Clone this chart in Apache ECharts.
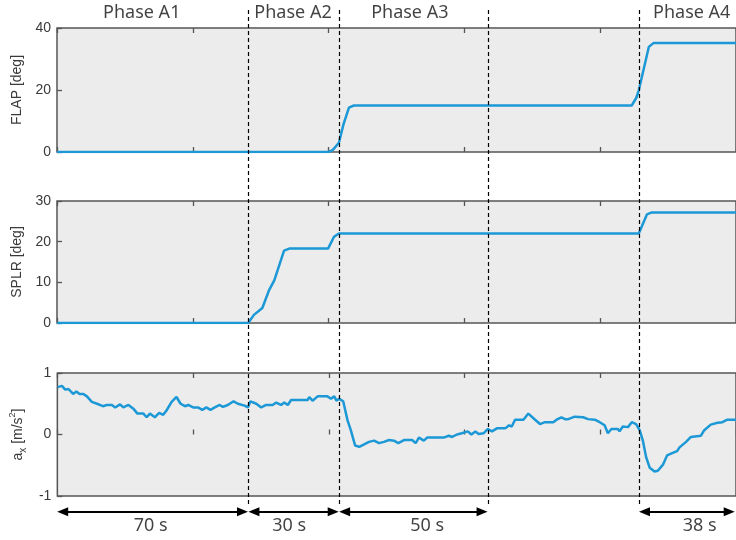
<!DOCTYPE html>
<html>
<head>
  <meta charset="utf-8" />
  <script src="https://cdn.jsdelivr.net/npm/echarts@6/dist/echarts.min.js"></script>
  <style>
    body { margin: 0; background-color: #ffffff; }
    #main { width: 736px; height: 540px; }
  </style>
</head>
<body>
<div id="main"></div>
<script type="text/javascript">
  // time in seconds
  let flapData = [
    [0, 0], [99.8, 0], [101.5, 0.6], [103.8, 3], [105.5, 9], [107.5, 14.3], [109.3, 15],
    [211.6, 15], [213.3, 17.5], [214.2, 19.9], [217.9, 33.9], [219.7, 35.2], [250, 35.2]
  ]
  let splrData = [
    [0, 0], [70.4, 0], [72.5, 2], [75.6, 3.7], [78.1, 8.1], [80, 10.5], [83.6, 17.8], [85.5, 18.3],
    [99.8, 18.3], [102, 21.2], [103.8, 22], [214.2, 22], [217.2, 26.7], [219, 27.2], [250, 27.2]
  ]
  let accData = [
    [0.1, 0.77], [1.7, 0.79], [2.9, 0.73], [4.1, 0.74], [5.8, 0.66], [7.0, 0.70], [8.2, 0.66], [9.6, 0.66],
    [10.9, 0.62], [12.7, 0.53], [14.6, 0.50], [16.8, 0.46], [18.2, 0.48], [20.1, 0.48], [21.3, 0.44],
    [23.1, 0.49], [24.3, 0.44], [26.2, 0.48], [28.0, 0.42], [29.5, 0.34], [31.7, 0.34], [32.9, 0.28],
    [34.1, 0.34], [35.9, 0.28], [37.5, 0.35], [39.0, 0.32], [40.2, 0.39], [42.1, 0.53], [43.9, 0.61],
    [45.4, 0.50], [47.0, 0.46], [48.2, 0.48], [50.0, 0.44], [51.8, 0.44], [53.4, 0.40], [54.9, 0.44],
    [56.4, 0.40], [58.0, 0.44], [59.8, 0.48], [61.0, 0.45], [62.8, 0.48], [64.9, 0.54], [66.5, 0.50],
    [69.0, 0.47], [70.2, 0.44], [71.1, 0.54], [73.3, 0.50], [75.1, 0.44], [76.9, 0.48], [79.3, 0.48],
    [80.6, 0.52], [82.4, 0.48], [83.6, 0.52], [84.9, 0.48], [86.1, 0.56], [92.2, 0.56], [92.8, 0.61],
    [94.0, 0.55], [95.9, 0.62], [99.5, 0.62], [100.8, 0.58], [102.0, 0.62], [102.8, 0.55], [103.8, 0.58],
    [105.3, 0.54], [106.9, 0.23], [108.1, 0.07], [109.7, -0.18], [111.2, -0.20], [113.0, -0.16],
    [114.8, -0.12], [116.7, -0.10], [118.5, -0.14], [120.3, -0.12], [122.2, -0.09], [124.0, -0.10],
    [125.6, -0.14], [127.7, -0.09], [130.7, -0.09], [132.0, -0.14], [133.2, -0.05], [135.0, -0.10],
    [136.2, -0.05], [142.3, -0.05], [144.2, -0.02], [145.4, -0.04], [147.2, 0.0], [149.0, 0.02],
    [151.2, 0.05], [152.5, 0.0], [154.0, 0.05], [155.2, 0.01], [157.0, 0.02], [158.6, 0.09],
    [160.1, 0.05], [161.9, 0.10], [165.0, 0.10], [166.4, 0.15], [167.4, 0.13], [168.6, 0.24],
    [171.7, 0.24], [173.5, 0.34], [176.0, 0.24], [177.8, 0.17], [179.6, 0.20], [182.7, 0.20],
    [183.9, 0.24], [185.7, 0.28], [187.0, 0.25], [188.2, 0.25], [190.6, 0.29], [193.7, 0.28],
    [195.5, 0.25], [198.0, 0.24], [199.8, 0.20], [201.6, 0.15], [202.8, 0.02], [204.1, 0.09],
    [206.5, 0.09], [207.1, 0.05], [208.3, 0.13], [210.2, 0.12], [211.6, 0.20], [213.2, 0.17],
    [214.5, 0.07], [215.7, -0.10], [216.9, -0.37], [218.2, -0.54], [220.0, -0.60], [221.2, -0.59],
    [223.1, -0.49], [224.6, -0.34], [226.7, -0.30], [228.3, -0.27], [229.2, -0.21], [231.6, -0.12],
    [233.4, -0.04], [237.1, -0.02], [238.3, 0.07], [240.7, 0.16], [243.2, 0.19], [245.0, 0.20],
    [246.8, 0.24], [250, 0.24]
  ]

  // phase boundaries (s) and annotation texts
  let phaseBounds = [70.4, 103.8, 158.6, 214.2]
  let phaseNames = ['Phase A1', 'Phase A2', 'Phase A3', 'Phase A4']
  let phaseNameX = [31.2, 86.9, 129.9, 233.7]
  let durationNames = ['70 s', '30 s', '50 s', '38 s']
  let durationX = [34.5, 85.5, 136.3, 236.6]
  let arrowSpans = [[0, 70.4], [70.4, 103.8], [103.8, 158.6], [214.2, 249.6]]
  let arrowInset = 2.1

  let yNames = ['FLAP [deg]', 'SPLR [deg]', '{b|a}{s|x}{b| [m/s}{p|2}{b|]}']
  let yMin = [0, 0, -1]
  let yMax = [40, 30, 1]
  let yStep = [20, 10, 1]

  let lineColor = '#1b98d5'
  let axisColor = '#555555'
  let labelColor = '#3a3a3a'
  let textFont = '"Noto Sans", sans-serif'

  let gridTops = [28, 201, 373]
  let gridHeights = [124, 122, 123]

  let chart = echarts.init(document.getElementById('main'))

  let grids = []
  let xAxes = []
  let yAxes = []
  let series = []

  for (let i = 0; i < 3; i++) {
    grids.push({
      left: 57, width: 681, top: gridTops[i], height: gridHeights[i],
      show: true, backgroundColor: '#ececec', borderColor: axisColor, borderWidth: 1.5,
    })
    xAxes.push({
      type: 'value', gridIndex: i, min: 0, max: 250, interval: 50,
      axisLine: { show: false },
      axisTick: { show: true, inside: true, length: 5, lineStyle: { color: axisColor, width: 1.3 } },
      axisLabel: { show: false },
      splitLine: { show: false },
    })
    yAxes.push({
      type: 'value', gridIndex: i, min: yMin[i], max: yMax[i], interval: yStep[i],
      name: yNames[i], nameLocation: 'middle', nameGap: 28,
      nameTextStyle: {
        color: labelColor, fontSize: 14, fontFamily: 'Liberation Sans',
        rich: {
          b: { fontSize: 14, color: labelColor, fontFamily: 'Liberation Sans', lineHeight: 20 },
          s: { fontSize: 10, color: labelColor, fontFamily: 'Liberation Sans', lineHeight: 10, verticalAlign: 'bottom' },
          p: { fontSize: 9, color: labelColor, fontFamily: 'Liberation Sans', lineHeight: 9, verticalAlign: 'top' },
        }
      },
      axisLine: { show: false },
      axisTick: { show: true, inside: true, length: 5, lineStyle: { color: axisColor, width: 1.3 } },
      axisLabel: { color: labelColor, fontSize: 14, fontFamily: 'Liberation Sans', margin: 6 },
      splitLine: { show: false },
    })
  }
  // top tick rows
  for (let i = 0; i < 3; i++) {
    xAxes.push({
      type: 'value', gridIndex: i, position: 'top', min: 0, max: 250, interval: 50,
      axisLine: { show: false },
      axisTick: { show: true, inside: true, length: 5, lineStyle: { color: axisColor, width: 1.3 } },
      axisLabel: { show: false },
      splitLine: { show: false },
    })
  }

  let panelData = [flapData, splrData, accData]
  for (let i = 0; i < 3; i++) {
    series.push({
      type: 'line', xAxisIndex: i, yAxisIndex: i, data: panelData[i],
      showSymbol: false, symbol: 'none',
      lineStyle: { color: lineColor, width: 2.5 },
      animation: false,
    })
  }

  // overlay for phase lines, arrows and texts
  grids.push({ left: 57, width: 681, top: 0, height: 540 })
  xAxes.push({ type: 'value', gridIndex: 3, min: 0, max: 250, show: false })
  yAxes.push({ type: 'value', gridIndex: 3, min: 0, max: 540, inverse: true, show: false })

  let markData = []
  phaseBounds.forEach(function (t) {
    markData.push([
      { coord: [t, 10], symbol: 'none' },
      { coord: [t, 507], symbol: 'none', lineStyle: { type: [4, 3], width: 1.2, color: '#000' } }
    ])
  })
  // triangles are centred on the end points, so pull them in so the tips meet the phase lines
  arrowSpans.forEach(function (s) {
    markData.push([
      { coord: [s[0] + arrowInset, 511.7] },
      { coord: [s[1] - arrowInset, 511.7], lineStyle: { type: 'solid', width: 2, color: '#000' } }
    ])
  })
  markData.push([
    { coord: [-0.7, 502], symbol: 'none' },
    { coord: [-0.7, 523], symbol: 'none', lineStyle: { type: 'solid', width: 1, color: '#000' } }
  ])

  let textData = []
  for (let i = 0; i < phaseNames.length; i++) {
    textData.push({ value: [phaseNameX[i], 13], name: phaseNames[i] })
    textData.push({ value: [durationX[i], 526], name: durationNames[i] })
  }

  series.push({
    type: 'scatter', xAxisIndex: 6, yAxisIndex: 3, data: textData,
    symbolSize: 0, clip: false, silent: true, animation: false,
    label: {
      show: true, position: 'inside', formatter: function (p) { return p.name },
      color: '#111', fontSize: 18, fontFamily: textFont,
    },
    markLine: {
      silent: true, animation: false,
      symbol: ['triangle', 'triangle'], symbolSize: [9, 11],
      label: { show: false },
      lineStyle: { color: '#000' },
      data: markData,
    }
  })

  chart.setOption({
    animation: false,
    grid: grids,
    xAxis: xAxes,
    yAxis: yAxes,
    series: series,
  })
</script>
</body>
</html>
